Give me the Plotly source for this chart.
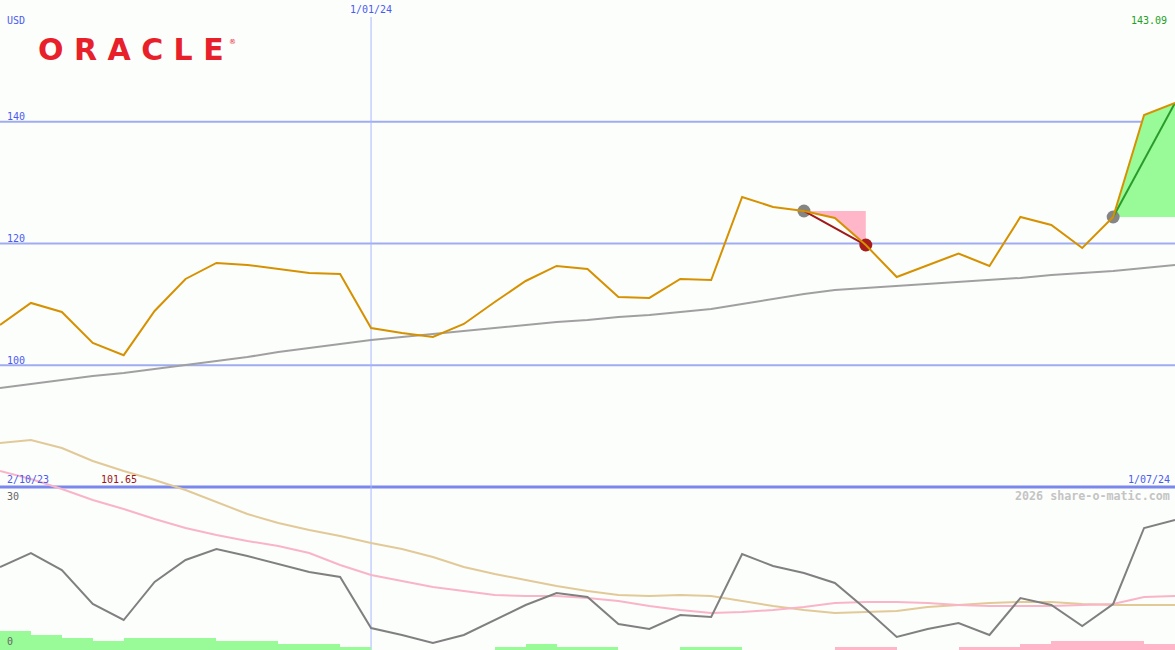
import plotly.graph_objects as go

# ---- data (weekly index 0..38) ----
price = [106.61, 110.23, 108.75, 103.66, 101.65, 108.92, 114.17, 116.80, 116.47, 115.81,
         115.15, 114.99, 106.12, 105.30, 104.64, 106.78, 110.39, 113.84, 116.31, 115.81,
         111.21, 111.05, 114.17, 114.00, 127.64, 126.00, 125.34, 124.19, 119.75, 114.49,
         116.47, 118.36, 116.31, 124.35, 123.04, 119.26, 124.35, 141.11, 143.09]
ma_long = [96.26, 96.92, 97.58, 98.23, 98.73, 99.38, 100.04, 100.70, 101.35, 102.17,
           102.83, 103.49, 104.14, 104.64, 105.13, 105.62, 106.12, 106.61, 107.10, 107.43,
           107.93, 108.26, 108.75, 109.24, 110.07, 110.89, 111.71, 112.37, 112.70, 113.03,
           113.36, 113.68, 114.01, 114.34, 114.83, 115.16, 115.49, 115.98, 116.47]
ind_tan = [38.10, 38.65, 37.18, 34.79, 32.95, 31.29, 29.45, 27.24, 25.03, 23.38,
           22.09, 20.98, 19.69, 18.59, 17.12, 15.28, 13.99, 12.88, 11.78, 10.86,
           10.12, 9.94, 10.12, 9.94, 9.02, 8.10, 7.36, 6.81, 6.99, 7.18,
           7.91, 8.28, 8.65, 8.83, 8.83, 8.47, 8.28, 8.28, 8.28]
ind_pink = [32.95, 31.47, 29.63, 27.61, 25.95, 24.11, 22.46, 21.17, 20.06, 19.14,
            17.85, 15.65, 13.80, 12.70, 11.60, 10.86, 10.12, 9.94, 9.94, 9.57,
            9.02, 8.10, 7.36, 6.81, 6.99, 7.36, 7.91, 8.65, 8.83, 8.83,
            8.65, 8.28, 8.10, 8.10, 8.10, 8.28, 8.47, 9.76, 9.94]
ind_gray = [15.28, 17.85, 14.72, 8.47, 5.52, 12.52, 16.57, 18.59, 17.30, 15.83,
            14.36, 13.44, 4.05, 2.76, 1.29, 2.76, 5.52, 8.28, 10.49, 9.76,
            4.79, 3.87, 6.44, 6.07, 17.67, 15.46, 14.17, 12.33, 7.55, 2.39,
            3.87, 4.97, 2.76, 9.57, 8.28, 4.42, 8.47, 22.46, 23.93]
vol_levels = [6, 5, 4, 3, 4, 4, 4, 3, 3, 2, 2, 1, 0, 0, 0, 0, 1, 2, 1, 1,
              0, 0, 1, 1, 0, 0, 0, -1, -1, 0, 0, -1, -1, -2, -3, -3, -3, -2]
price_ticks = [100, 120, 140]
divider_level = 80
year_line_idx = 12
fall_span = (26, 28)
rise_span = (36, 38)
start_label, end_label, year_label = "2/10/23", "1/07/24", "1/01/24"
min_label, max_label = "101.65", "143.09"

idx = list(range(len(price)))
W, H = 1175, 650
BG = "#fcfefc"
BLUE_TXT = "#4a5cf0"
MONO = "DejaVu Sans Mono"

fig = go.Figure()

# fills for the marked moves
a, b = fall_span
fig.add_trace(go.Scatter(x=idx[a:b + 1] + [b], y=price[a:b + 1] + [price[a]], fill="toself",
                         fillcolor="#ffb6c8", line=dict(width=0), mode="lines",
                         hoverinfo="skip", showlegend=False))
c, d = rise_span
fig.add_trace(go.Scatter(x=idx[c:d + 1] + [d], y=price[c:d + 1] + [price[c]], fill="toself",
                         fillcolor="#98fb98", line=dict(width=0), mode="lines",
                         hoverinfo="skip", showlegend=False))

# long moving average
fig.add_trace(go.Scatter(x=idx, y=ma_long, mode="lines", line=dict(color="#a0a0a0", width=2),
                         showlegend=False))

# markers
fig.add_trace(go.Scatter(x=[a, c], y=[price[a], price[c]], mode="markers",
                         marker=dict(color="#858585", size=13), showlegend=False))
fig.add_trace(go.Scatter(x=[b], y=[price[b]], mode="markers",
                         marker=dict(color="#a81c1c", size=13), showlegend=False))
fig.add_trace(go.Scatter(x=[a, b], y=[price[a], price[b]], mode="lines",
                         line=dict(color="#a01818", width=2), showlegend=False))
fig.add_trace(go.Scatter(x=[c, d], y=[price[c], price[d]], mode="lines",
                         line=dict(color="#2a9a2a", width=2), showlegend=False))

# price line
fig.add_trace(go.Scatter(x=idx, y=price, mode="lines", line=dict(color="#d69100", width=2),
                         showlegend=False))

# lower indicators
fig.add_trace(go.Scatter(x=idx, y=ind_tan, yaxis="y2", mode="lines",
                         line=dict(color="#e2c998", width=2), showlegend=False))
fig.add_trace(go.Scatter(x=idx, y=ind_pink, yaxis="y2", mode="lines",
                         line=dict(color="#f9b4c8", width=2), showlegend=False))
fig.add_trace(go.Scatter(x=idx, y=ind_gray, yaxis="y2", mode="lines",
                         line=dict(color="#808080", width=2), showlegend=False))

# volume-like bars
gx = [i + 0.5 for i, v in enumerate(vol_levels) if v > 0]
gy = [v for v in vol_levels if v > 0]
px_ = [i + 0.5 for i, v in enumerate(vol_levels) if v < 0]
py_ = [-v for v in vol_levels if v < 0]
fig.add_trace(go.Bar(x=gx, y=gy, width=1, yaxis="y3", marker=dict(color="#98fb98", line=dict(width=0)),
                     showlegend=False))
fig.add_trace(go.Bar(x=px_, y=py_, width=1, yaxis="y3", marker=dict(color="#ffb6c8", line=dict(width=0)),
                     showlegend=False))

shapes = []
for t in price_ticks:
    shapes.append(dict(type="line", xref="paper", x0=0, x1=1, yref="y", y0=t, y1=t,
                       line=dict(color="#a0acf2", width=2), layer="below"))
shapes.append(dict(type="line", xref="paper", x0=0, x1=1, yref="y", y0=divider_level, y1=divider_level,
                   line=dict(color="#7a88ee", width=3), layer="below"))
shapes.append(dict(type="line", xref="x", x0=year_line_idx, x1=year_line_idx, yref="paper", y0=0,
                   y1=1 - 17 / H, line=dict(color="#a8b6ff", width=1), layer="below"))

def px(x):
    return x / W

def py(y):
    return 1 - y / H

ann = []
def label(text, x, y, color, xanchor="left", size=10, family=MONO, bold=False):
    ann.append(dict(text=("<b>%s</b>" % text) if bold else text, x=px(x), y=py(y), xref="paper", yref="paper",
                    xanchor=xanchor, yanchor="middle", showarrow=False,
                    font=dict(family=family, size=size, color=color)))

label("USD", 5, 21, BLUE_TXT)
for t in price_ticks:
    ann.append(dict(text=str(t), x=px(5), y=t, xref="paper", yref="y", xanchor="left",
                    yanchor="middle", yshift=5, showarrow=False,
                    font=dict(family=MONO, size=10, color=BLUE_TXT)))
ann.append(dict(text=year_label, x=year_line_idx, y=py(10), xref="x", yref="paper",
                xanchor="center", yanchor="middle", showarrow=False,
                font=dict(family=MONO, size=10, color=BLUE_TXT)))
label(max_label, 1169, 21, "#22a022", xanchor="right")
label(start_label, 5, 479, BLUE_TXT)
label(min_label, 99, 479, "#a01414")
label(end_label, 1172, 479, BLUE_TXT, xanchor="right")
label("30", 5, 496, "#666666")
label("0", 5, 641, "#666666")
label("2026 share-o-matic.com", 1172, 496, "#c4c4c4", xanchor="right", size=11.7, bold=True)
label("O R A C L E", 131, 49, "#e8202a", xanchor="center", size=30, family="DejaVu Sans", bold=True)
label("®", 227, 42, "#e8202a", size=7, family="DejaVu Sans")

fig.update_layout(
    width=W, height=H, margin=dict(l=0, r=0, t=0, b=0),
    paper_bgcolor=BG, plot_bgcolor=BG,
    xaxis=dict(range=[0, len(price) - 1], visible=False, fixedrange=True),
    yaxis=dict(range=[53.22, 160.0], visible=False, fixedrange=True),
    yaxis2=dict(range=[0, 119.64], overlaying="y", visible=False, fixedrange=True),
    yaxis3=dict(range=[0, 209.7], overlaying="y", visible=False, fixedrange=True),
    shapes=shapes, annotations=ann, barmode="overlay", bargap=0,
    showlegend=False,
)

fig.write_html("out.html", config={"displayModeBar": False})

# remove default page margin so the figure fills the window exactly
with open("out.html", "r", encoding="utf-8") as f:
    html = f.read()
html = html.replace("<body>", '<body style="margin:0;padding:0;overflow:hidden;background:%s">' % BG, 1)
with open("out.html", "w", encoding="utf-8") as f:
    f.write(html)
